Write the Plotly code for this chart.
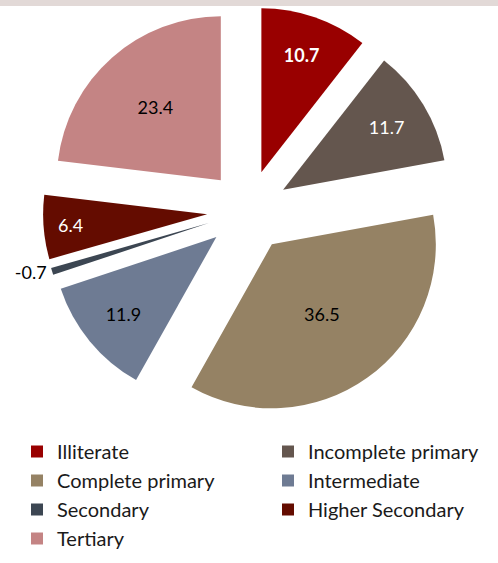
import plotly.graph_objects as go

# Education levels and their values
categories = ["Illiterate", "Incomplete primary", "Complete primary", "Intermediate",
              "Secondary", "Higher Secondary", "Tertiary"]
values = [10.7, 11.7, 36.5, 11.9, -0.7, 6.4, 23.4]
colors = ["#990000", "#64564e", "#958264", "#6e7b93", "#3c4652", "#640c00", "#c48484"]
label_colors = ["white", "white", "black", "black", "black", "white", "black"]

# slice sizes use the magnitude of each value; labels keep the sign
sizes = [abs(v) for v in values]
labels_txt = [f"{v:.1f}" for v in values]
labels_txt[0] = f"<b>{labels_txt[0]}</b>"
positions = ["outside" if v < 0 else "inside" for v in values]

FONT = "Lato, 'Open Sans', sans-serif"
W, H = 498, 563

fig = go.Figure(go.Pie(
    labels=categories,
    values=sizes,
    text=labels_txt,
    textinfo="text",
    textposition=positions,
    insidetextorientation="horizontal",
    textfont=dict(family=FONT, size=18, color=label_colors),
    marker=dict(colors=colors, line=dict(width=0)),
    pull=[0.25] * len(values),
    sort=False,
    direction="clockwise",
    rotation=0,
    hoverinfo="label+text",
    domain=dict(x=[43 / W, 453 / W], y=[1 - 416 / H, 1 - 6 / H]),
))

fig.update_layout(
    width=W, height=H,
    margin=dict(l=0, r=0, t=0, b=0, autoexpand=False),
    paper_bgcolor="white",
    plot_bgcolor="white",
    font=dict(family=FONT, color="#1a1a1a"),
    showlegend=True,
    legend=dict(
        orientation="h",
        x=17 / W, xanchor="left",
        y=1 - 432 / H, yanchor="top",
        font=dict(family=FONT, size=20, color="#1a1a1a"),
        entrywidth=206, entrywidthmode="pixels",
        bgcolor="rgba(0,0,0,0)",
        traceorder="normal",
    ),
    shapes=[dict(type="rect", xref="paper", yref="paper",
                 x0=0, x1=1, y0=1 - 6 / H, y1=1,
                 fillcolor="#e2d9d7", line=dict(width=0), layer="below")],
)

fig.write_html("out.html")
